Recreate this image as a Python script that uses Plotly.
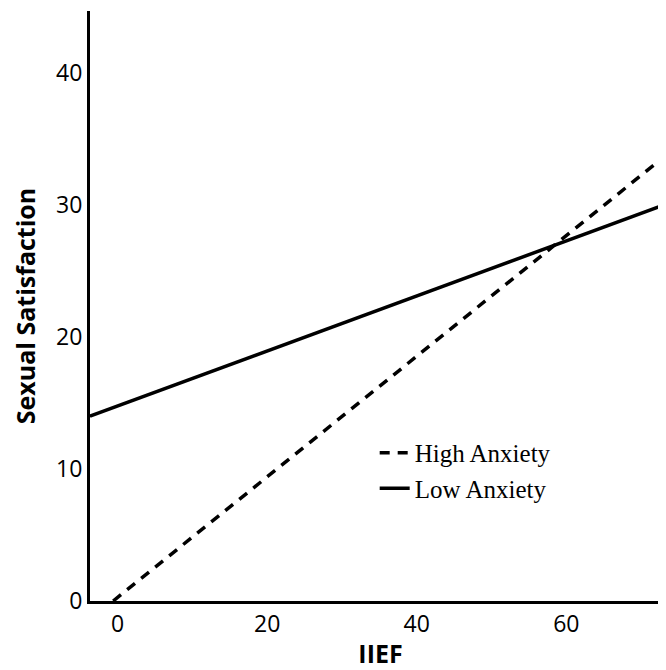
import plotly.graph_objects as go

# Data
series_names = ["High Anxiety", "Low Anxiety"]
iief_high = [-0.6, 73.4]
sat_high = [0.0, 33.8]
iief_low = [-3.7, 74.0]
sat_low = [14.0, 30.2]
x_ticks = [0, 20, 40, 60]
y_ticks = [0, 10, 20, 30, 40]

fig = go.Figure()
fig.add_trace(go.Scatter(x=iief_high, y=sat_high, mode="lines", name=series_names[0],
                         line=dict(color="black", width=3.5, dash="10px,8px")))
fig.add_trace(go.Scatter(x=iief_low, y=sat_low, mode="lines", name=series_names[1],
                         line=dict(color="black", width=3.5)))

tick_font = dict(family="Open Sans", size=23, color="black")
title_font = dict(family="Open Sans", size=25, color="black")

fig.update_layout(
    width=666, height=670,
    margin=dict(l=82, r=3, t=3, b=77, autoexpand=False),
    plot_bgcolor="white", paper_bgcolor="white",
    showlegend=True,
    legend=dict(x=0.49, y=0.29, xanchor="left", yanchor="top",
                font=dict(family="Liberation Serif", size=25, color="black"),
                bgcolor="rgba(0,0,0,0)", tracegroupgap=0),
    xaxis=dict(range=[-3.7, 74.0], tickvals=x_ticks, showgrid=False, zeroline=False,
               showline=True, linecolor="black", linewidth=3, ticks="",
               tickfont=tick_font, automargin=False,
               title=dict(text="<b>IIEF</b>", font=title_font, standoff=8)),
    yaxis=dict(range=[0, 44.7], tickvals=y_ticks, showgrid=False, zeroline=False,
               showline=True, linecolor="black", linewidth=3, ticks="",
               tickfont=tick_font, automargin=False,
               title=dict(text="<b>Sexual Satisfaction</b>", font=title_font, standoff=16)),
)

fig.write_html("out.html")
